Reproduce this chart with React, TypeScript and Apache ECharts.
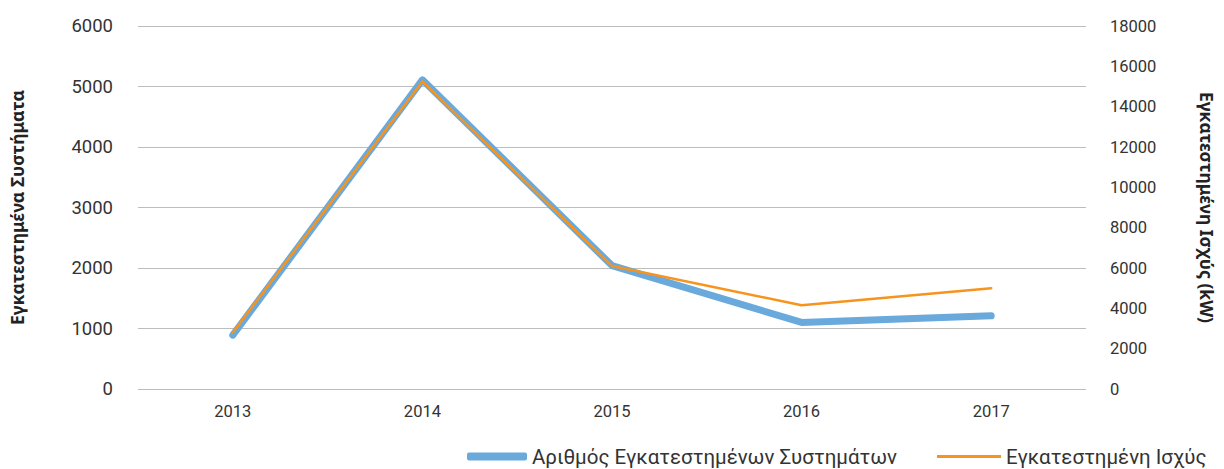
import React, { useEffect, useRef } from "react";
import * as echarts from "echarts";

const years = ["2013", "2014", "2015", "2016", "2017"];
const systemsCount = [890, 5110, 2040, 1100, 1210];
const installedPowerKW = [2800, 15250, 6100, 4150, 5000];
const leftName = "Εγκατεστημένα Συστήματα";
const rightName = "Εγκατεστημένη Ισχύς (kW)";
const seriesNameA = "Αριθμός Εγκατεστημένων Συστημάτων";
const seriesNameB = "Εγκατεστημένη Ισχύς";

const FONT = "Roboto";

export default function App() {
  const ref = useRef<HTMLDivElement>(null);
  useEffect(() => {
    if (!ref.current) return;
    const chart = echarts.init(ref.current, null, { renderer: "svg" });
    chart.setOption({
      animation: false,
      textStyle: { fontFamily: FONT },
      grid: { left: 136, right: 135, top: 26, bottom: 80 },
      legend: [
        {
          data: [seriesNameA],
          left: 467,
          top: 446,
          padding: 0,
          icon: "roundRect",
          itemWidth: 60,
          itemHeight: 8,
          itemGap: 12,
          textStyle: { fontSize: 20.5, color: "#333", fontFamily: FONT },
        },
        {
          data: [seriesNameB],
          left: 937,
          top: 446,
          padding: 0,
          icon: "rect",
          itemWidth: 64,
          itemHeight: 3,
          itemGap: 16,
          textStyle: { fontSize: 20.5, color: "#333", fontFamily: FONT },
        },
      ],
      xAxis: {
        type: "category",
        data: years,
        boundaryGap: true,
        axisLine: { show: false },
        axisTick: { show: false },
        axisLabel: { color: "#333", fontSize: 16.5, margin: 14 },
      },
      yAxis: [
        {
          type: "value",
          min: 0,
          max: 6000,
          interval: 1000,
          name: leftName,
          nameLocation: "middle",
          nameGap: 112,
          nameTextStyle: { fontSize: 17.5, fontWeight: "bold", color: "#222", fontFamily: "Noto Sans" },
          axisLine: { show: false },
          axisTick: { show: false },
          axisLabel: { color: "#333", fontSize: 18.5, margin: 25, formatter: (v: number) => String(v) },
          splitLine: { lineStyle: { color: "#bdbdbd", width: 1 } },
        },
        {
          type: "value",
          min: 0,
          max: 18000,
          interval: 2000,
          name: rightName,
          nameLocation: "middle",
          nameGap: 112,
          nameRotate: -90,
          nameTextStyle: { fontSize: 17.5, fontWeight: "bold", color: "#222", fontFamily: "Noto Sans" },
          axisLine: { show: false },
          axisTick: { show: false },
          axisLabel: { color: "#333", fontSize: 16.5, margin: 24, formatter: (v: number) => String(v) },
          splitLine: { show: false },
        },
      ],
      series: [
        {
          name: seriesNameA,
          type: "line",
          yAxisIndex: 0,
          data: systemsCount,
          symbol: "none",
          lineStyle: { color: "#6aa9dc", width: 7, cap: "round", join: "round" },
          itemStyle: { color: "#6aa9dc" },
          z: 2,
        },
        {
          name: seriesNameB,
          type: "line",
          yAxisIndex: 1,
          data: installedPowerKW,
          symbol: "none",
          lineStyle: { color: "#f7941d", width: 2.5, cap: "round", join: "round" },
          itemStyle: { color: "#f7941d" },
          z: 3,
        },
      ],
    });
    return () => chart.dispose();
  }, []);
  return <div ref={ref} style={{ width: 1224, height: 469, position: "absolute", left: 0, top: 0 }} />;
}
